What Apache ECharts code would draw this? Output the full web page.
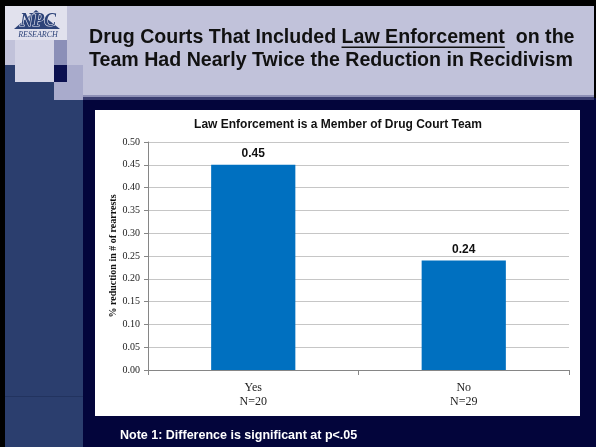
<!DOCTYPE html>
<html>
<head>
<meta charset="utf-8">
<title>Law Enforcement on the Drug Court Team</title>
<script src="https://cdn.jsdelivr.net/npm/echarts@6/dist/echarts.min.js"></script>
<style>
  html, body { margin: 0; padding: 0; background: #000; }
  #chart { width: 596px; height: 447px; }
</style>
</head>
<body>
<div id="chart"></div>
<script>
// chart data
const categories = ["Yes\nN=20", "No\nN=29"];
const reductionValues = [0.45, 0.24];
const yMin = 0;
const yMax = 0.5;
const yStep = 0.05;

const slideTitle = [
  "Drug Courts That Included ",
  "Law Enforcement",
  "  on the",
];
const slideTitleLine2 = "Team Had Nearly Twice the Reduction in Recidivism";
const chartTitle = "Law Enforcement is a Member of Drug Court Team";
const yAxisName = "% reduction in # of rearrests";
const noteText = "Note 1: Difference is significant at p<.05";

const sans = "Liberation Sans, Arial, sans-serif";
const serif = "Liberation Serif, Times New Roman, serif";
const titleFont = "bold 19.6px " + sans;

// measure text so the underline sits under "Law Enforcement"
const ctx = document.createElement("canvas").getContext("2d");
ctx.font = titleFont;
const titleX = 89;
const underlineStart = titleX + ctx.measureText(slideTitle[0]).width;
const underlineEnd = underlineStart + ctx.measureText(slideTitle[1]).width;

const option = {
  backgroundColor: "#000",
  animation: false,
  graphic: [
    // frame: black edges, navy body, lavender header band
    { type: "rect", z: -20, shape: { x: 5, y: 98, width: 591, height: 349 }, style: { fill: "#03053b" } },
    { type: "rect", z: -19, shape: { x: 5, y: 6, width: 589, height: 92 }, style: { fill: "#c1c2da" } },
    { type: "rect", z: -19, shape: { x: 60, y: 95, width: 534, height: 2 }, style: { fill: "#8e90b6" } },
    { type: "rect", z: -19, shape: { x: 60, y: 97, width: 534, height: 3 }, style: { fill: "#3a3d70" } },
    // left column
    { type: "rect", z: -18, shape: { x: 5, y: 65, width: 78, height: 382 }, style: { fill: "#2b3e6e" } },
    { type: "rect", z: -18, shape: { x: 5, y: 396, width: 78, height: 1 }, style: { fill: "#22335f" } },
    { type: "rect", z: -17, shape: { x: 5, y: 6, width: 62, height: 34 }, style: { fill: "#e1e1ed" } },
    { type: "rect", z: -17, shape: { x: 15, y: 40, width: 39, height: 42 }, style: { fill: "#d4d4e6" } },
    { type: "rect", z: -17, shape: { x: 54, y: 40, width: 13, height: 25 }, style: { fill: "#8b8fb8" } },
    { type: "rect", z: -17, shape: { x: 54, y: 65, width: 29, height: 35 }, style: { fill: "#a9abcc" } },
    { type: "rect", z: -16, shape: { x: 54, y: 65, width: 13, height: 17 }, style: { fill: "#0b1050" } },
    // logo
    { type: "polygon", z: -15, shape: { points: [[14, 29], [36, 10], [60, 29]] }, style: { fill: "#2d4379" } },
    { type: "text", z: -14, x: 38, y: 21, style: { text: "NPC", fill: "#2d4379", stroke: "#e8e8f2", lineWidth: 1.2, font: "bold italic 18px " + serif, align: "center", verticalAlign: "middle" } },
    { type: "text", z: -14, x: 38, y: 35, style: { text: "RESEARCH", fill: "#2d4379", font: "italic 8px " + serif, align: "center", verticalAlign: "middle" } },
    // slide title
    { type: "text", x: titleX, y: 38, style: { text: slideTitle.join(""), fill: "#111", font: titleFont, verticalAlign: "middle" } },
    { type: "rect", shape: { x: underlineStart, y: 46.5, width: underlineEnd - underlineStart, height: 1.6 }, style: { fill: "#111" } },
    { type: "text", x: titleX, y: 61, style: { text: slideTitleLine2, fill: "#111", font: titleFont, verticalAlign: "middle" } },
    // white chart panel
    { type: "rect", z: -10, shape: { x: 95, y: 110, width: 485, height: 306 }, style: { fill: "#ffffff" } },
    { type: "text", x: 338, y: 125, style: { text: chartTitle, fill: "#111", font: "bold 12px " + sans, align: "center", verticalAlign: "middle" } },
    // note
    { type: "text", x: 120, y: 435.5, style: { text: noteText, fill: "#ffffff", font: "bold 12.5px " + sans, verticalAlign: "middle" } },
  ],
  grid: {
    left: 148,
    right: 27,
    top: 142,
    bottom: 77,
  },
  xAxis: {
    type: "category",
    data: categories,
    axisLine: { lineStyle: { color: "#868686" } },
    axisTick: { show: true, length: 5, alignWithLabel: false, lineStyle: { color: "#868686" } },
    axisLabel: {
      color: "#222",
      fontFamily: serif,
      fontSize: 12,
      lineHeight: 14,
      margin: 11,
    },
  },
  yAxis: {
    type: "value",
    min: yMin,
    max: yMax,
    interval: yStep,
    name: yAxisName,
    nameLocation: "middle",
    nameGap: 30,
    nameMoveOverlap: false,
    nameTextStyle: {
      color: "#111",
      fontFamily: serif,
      fontWeight: "bold",
      fontSize: 10,
    },
    axisLine: { show: true, lineStyle: { color: "#868686" } },
    axisTick: { show: true, length: 4, lineStyle: { color: "#868686" } },
    axisLabel: {
      color: "#222",
      fontFamily: serif,
      fontSize: 10,
      margin: 8,
      formatter: (v) => v.toFixed(2),
    },
    splitLine: { lineStyle: { color: "#c6c6c6" } },
  },
  series: [
    {
      type: "bar",
      data: reductionValues,
      barWidth: "40%",
      itemStyle: { color: "#0070c0" },
      label: {
        show: true,
        position: "top",
        distance: 5,
        color: "#111",
        fontFamily: sans,
        fontWeight: "bold",
        fontSize: 12,
        formatter: (p) => p.value.toFixed(2),
      },
    },
  ],
};

const dom = document.getElementById("chart");
echarts.init(dom, null, { renderer: "canvas" }).setOption(option);
</script>
</body>
</html>
